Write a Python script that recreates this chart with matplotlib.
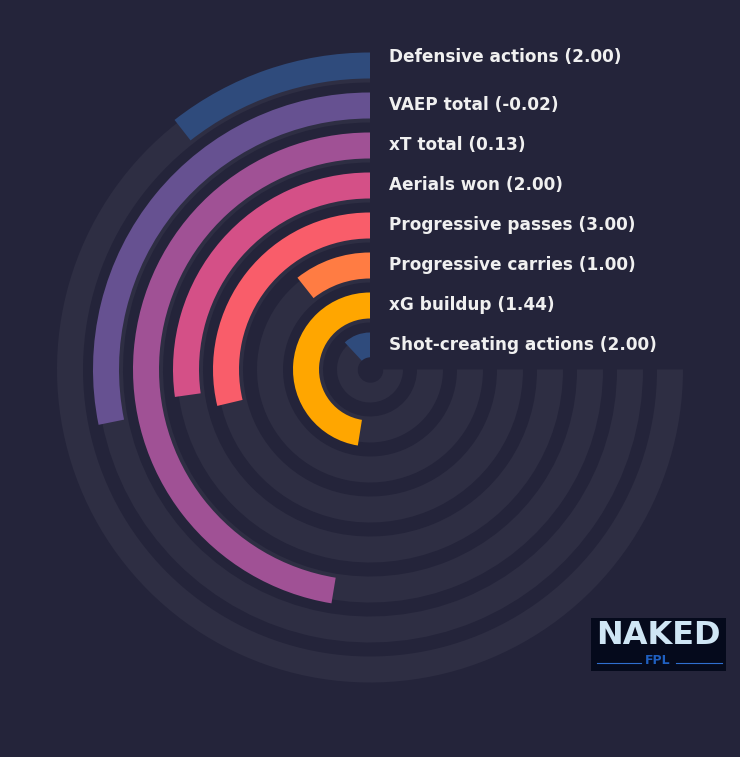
import numpy as np
import matplotlib
matplotlib.use('Agg')
import matplotlib.pyplot as plt

# data (outermost ring first)
metrics = ['Defensive actions', 'VAEP total', 'xT total', 'Aerials won',
           'Progressive passes', 'Progressive carries', 'xG buildup',
           'Shot-creating actions']
values = [2.00, -0.02, 0.13, 2.00, 3.00, 1.00, 1.44, 2.00]
percentiles = [14.1, 37.6, 63.2, 36.3, 38.3, 14.2, 63.3, 15.9]
colors = ['#2f4b7c', '#665191', '#a05195', '#d45087', '#f95d6a',
          '#ff7c43', '#ffa600', '#2f4b7c']

bg = '#24243a'
track = '#2e2e43'
max_angle = 1.5 * np.pi   # 3/4 circle

W, H = 740, 757
R = 330
cx, cy = 370, 757 - 369.5

fig = plt.figure(figsize=(W / 100, H / 100), dpi=100, facecolor=bg)
ax = fig.add_axes([(cx - R) / W, (cy - R) / H, 2 * R / W, 2 * R / H],
                  projection='polar')
ax.set_facecolor(bg)
ax.set_theta_zero_location('N')
ax.set_theta_direction(1)
ax.set_ylim(0, R)
ax.set_axis_off()

for k, (name, v, p, c) in enumerate(zip(metrics, values, percentiles, colors)):
    r_track = 287 - 40 * k
    r_bar = 291 - 40 * k
    ax.bar(0, 26, width=max_angle, bottom=r_track, align='edge',
           color=track, edgecolor='none', zorder=1)
    ax.bar(0, 26, width=max_angle * p / 100, bottom=r_bar, align='edge',
           color=c, edgecolor='none', zorder=2)
    dy = 9 if k == 0 else 1
    ax.annotate('%s (%.2f)' % (name, v), xy=(0, r_bar + 13),
                xytext=(19, dy), textcoords='offset pixels',
                ha='left', va='center', fontsize=12.2, fontweight='bold',
                color='#f0f0f0', zorder=5, annotation_clip=False)

# center dot
th = np.linspace(0, 2 * np.pi, 100)
ax.fill_between(th, 0, 12, color=bg, zorder=3)

# logo box
lax = fig.add_axes([591 / W, (H - 671) / H, 135 / W, 53 / H])
lax.set_facecolor('#050a1c')
lax.set_xlim(0, 135)
lax.set_ylim(0, 53)
lax.set_xticks([])
lax.set_yticks([])
for s in lax.spines.values():
    s.set_visible(False)
lax.text(67, 36, 'NAKED', ha='center', va='center', fontsize=23,
         fontweight='bold', color='#cfe6f5')
lax.text(67, 10, 'FPL', ha='center', va='center', fontsize=9,
         fontweight='bold', color='#1f5fc0')
lax.plot([6, 50], [8, 8], color='#2f6fd0', lw=0.8)
lax.plot([85, 131], [8, 8], color='#2f6fd0', lw=0.8)

fig.savefig('out.png', dpi=100, facecolor=bg)
